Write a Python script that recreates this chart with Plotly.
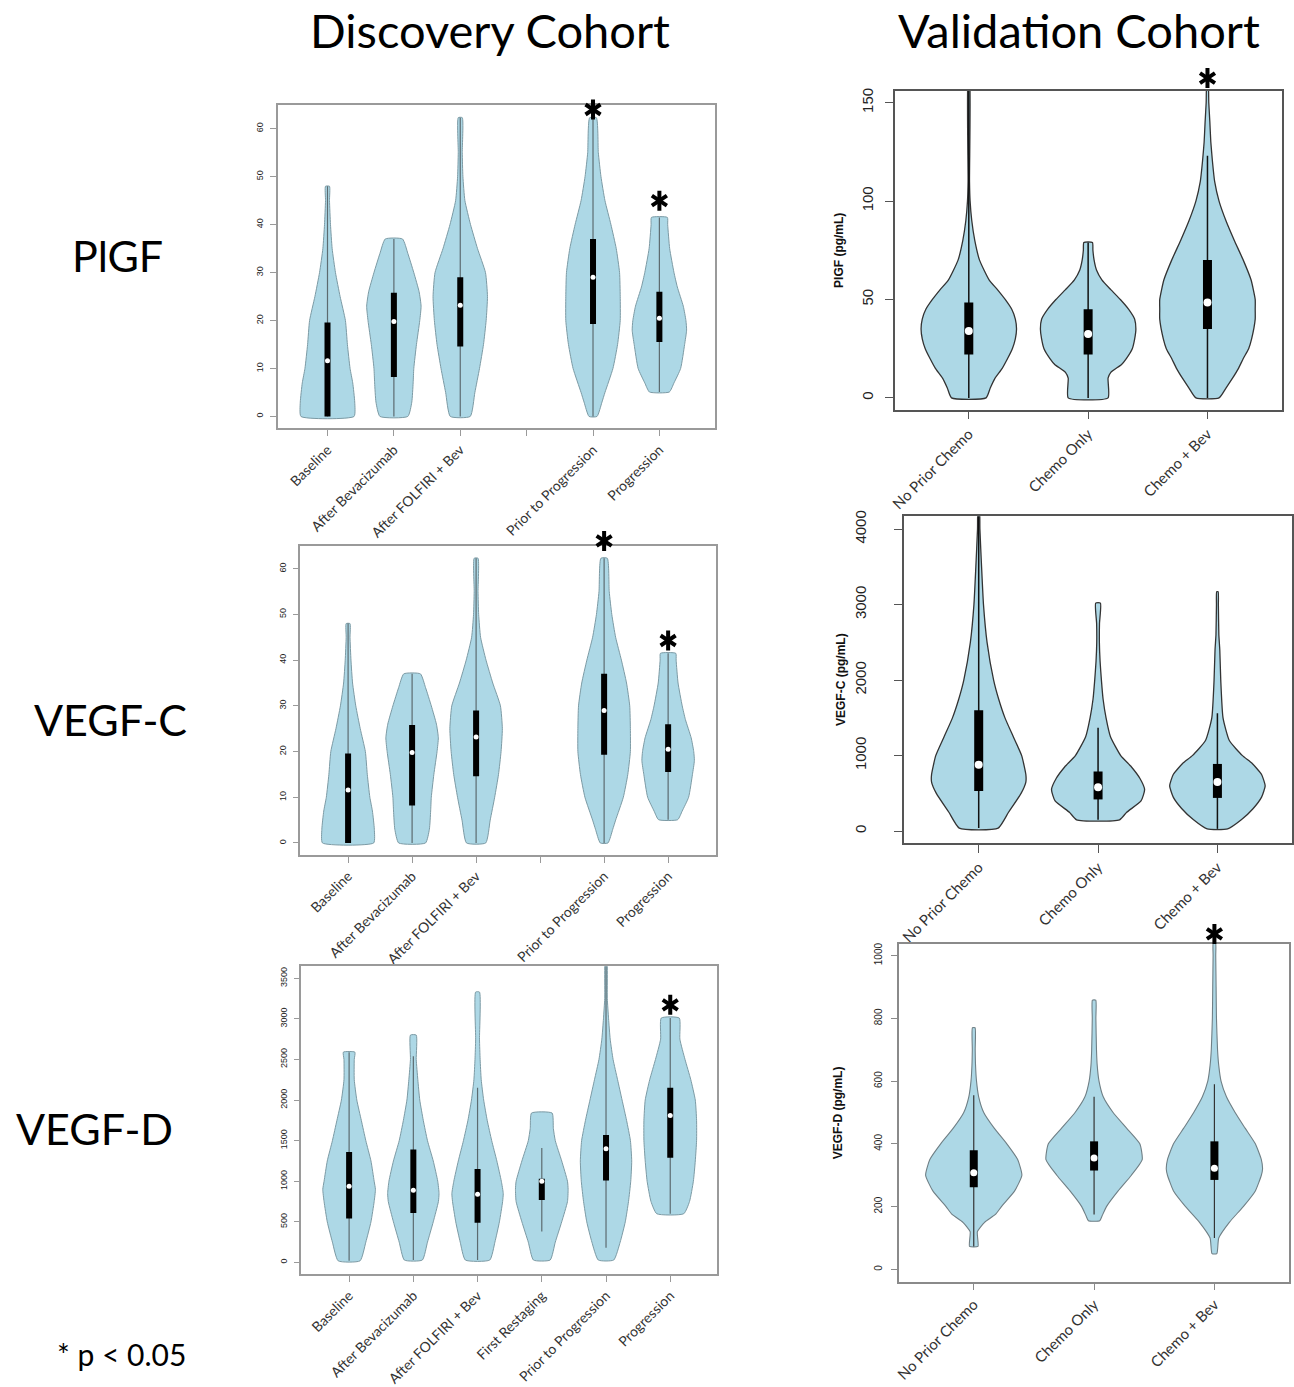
import plotly.graph_objects as go

W, H = 1294, 1387

# ---------------- data ----------------
disc_labels_a = ["Baseline", "After Bevacizumab", "After FOLFIRI + Bev", "", "Prior to Progression", "Progression"]
disc_labels_b = ["Baseline", "After Bevacizumab", "After FOLFIRI + Bev", "First Restaging", "Prior to Progression", "Progression"]
val_labels = ["No Prior Chemo", "Chemo Only", "Chemo + Bev"]

# Discovery PlGF (positions 1,2,3,5,6 ; slot 4 left empty)
disc_plgf_pos = [1, 2, 3, 5, 6]
disc_plgf_levels = [
    [0, 3, 7, 10, 15, 20, 25, 30, 35, 40, 45, 48],
    [0, 3, 7, 10, 15, 20, 23, 26, 30, 34, 37],
    [0, 5, 10, 15, 20, 25, 30, 35, 40, 45, 50, 55, 62.3],
    [0, 3, 5, 10, 15, 20, 25, 30, 35, 40, 45, 50, 55, 62.3],
    [5.1, 7, 10, 15, 18, 20, 23, 27, 30, 35, 40, 41.5],
]
disc_plgf_density = [
    [0.40, 0.41, 0.38, 0.34, 0.30, 0.27, 0.19, 0.12, 0.07, 0.045, 0.03, 0.03],
    [0.21, 0.27, 0.29, 0.30, 0.34, 0.39, 0.41, 0.38, 0.30, 0.21, 0.13],
    [0.15, 0.22, 0.29, 0.35, 0.39, 0.41, 0.38, 0.26, 0.155, 0.07, 0.04, 0.03, 0.03],
    [0.06, 0.135, 0.18, 0.30, 0.37, 0.41, 0.41, 0.40, 0.35, 0.27, 0.18, 0.12, 0.08, 0.05],
    [0.15, 0.22, 0.32, 0.38, 0.41, 0.40, 0.36, 0.27, 0.22, 0.155, 0.125, 0.12],
]
disc_plgf_q1 = [0, 8.2, 14.6, 19.3, 15.5]
disc_plgf_med = [11.6, 19.8, 23.2, 29.0, 20.5]
disc_plgf_q3 = [19.6, 25.8, 29.0, 37.0, 26.0]
disc_plgf_lo = [0, 0, 0, 0, 5.1]
disc_plgf_hi = [48, 37, 62.3, 62.3, 41.5]
disc_plgf_star_pos = [5, 6]
disc_plgf_star_y = [64.0, 45.0]

# Discovery VEGF-C (same distributions as shown in the reference)
disc_vegfc_pos = [1, 2, 3, 5, 6]
disc_vegfc_levels = disc_plgf_levels
disc_vegfc_density = disc_plgf_density
disc_vegfc_q1 = [0, 8.2, 14.6, 19.3, 15.5]
disc_vegfc_med = [11.6, 19.8, 23.2, 29.0, 20.5]
disc_vegfc_q3 = [19.6, 25.8, 29.0, 37.0, 26.0]
disc_vegfc_lo = [0, 0, 0, 0, 5.1]
disc_vegfc_hi = [48, 37, 62.3, 62.3, 41.5]
disc_vegfc_star_pos = [5, 6]
disc_vegfc_star_y = [66.1, 44.3]

# Discovery VEGF-D
disc_vegfd_pos = [1, 2, 3, 4, 5, 6]
disc_vegfd_levels = [
    [20, 250, 500, 750, 900, 1000, 1250, 1500, 1750, 2000, 2250, 2500, 2590],
    [30, 250, 500, 750, 850, 1000, 1250, 1500, 1750, 2000, 2250, 2500, 2800],
    [30, 250, 500, 750, 850, 1000, 1250, 1500, 1750, 2000, 2250, 2500, 2750, 3330],
    [30, 250, 500, 750, 900, 1000, 1250, 1500, 1650, 1840],
    [30, 250, 500, 750, 1000, 1250, 1500, 1750, 2000, 2250, 2500, 2750, 3000, 3250, 3800],
    [600, 750, 1000, 1250, 1500, 1750, 2000, 2250, 2500, 2750, 3010],
]
disc_vegfd_density = [
    [0.17, 0.26, 0.34, 0.39, 0.41, 0.39, 0.34, 0.26, 0.19, 0.12, 0.08, 0.08, 0.09],
    [0.14, 0.22, 0.31, 0.39, 0.40, 0.38, 0.31, 0.22, 0.155, 0.10, 0.07, 0.045, 0.045],
    [0.19, 0.27, 0.34, 0.39, 0.40, 0.37, 0.30, 0.22, 0.15, 0.095, 0.057, 0.04, 0.03, 0.03],
    [0.13, 0.21, 0.31, 0.40, 0.41, 0.40, 0.31, 0.21, 0.18, 0.16],
    [0.12, 0.22, 0.30, 0.35, 0.385, 0.40, 0.38, 0.32, 0.25, 0.18, 0.11, 0.065, 0.04, 0.02, 0.01],
    [0.21, 0.30, 0.36, 0.39, 0.41, 0.41, 0.39, 0.32, 0.23, 0.15, 0.14],
]
disc_vegfd_q1 = [540, 610, 490, 770, 1010, 1290]
disc_vegfd_med = [940, 890, 840, 1000, 1400, 1810]
disc_vegfd_q3 = [1360, 1390, 1150, 1030, 1570, 2150]
disc_vegfd_lo = [20, 30, 30, 380, 180, 600]
disc_vegfd_hi = [2590, 2540, 2150, 1410, 3800, 3010]
disc_vegfd_star_pos = [6]
disc_vegfd_star_y = [3172]

# Validation PlGF
val_plgf_pos = [1, 2, 3]
val_plgf_levels = [
    [0, 5, 10, 15, 20, 25, 30, 35, 40, 45, 50, 55, 60, 70, 80, 90, 100, 110, 165],
    [0, 10, 13, 17, 20, 25, 30, 35, 40, 45, 50, 55, 60, 65, 70, 75, 79],
    [0, 5, 10, 15, 20, 25, 30, 40, 45, 50, 60, 70, 80, 90, 100, 110, 120, 130, 140, 150, 160],
]
val_plgf_density = [
    [0.145, 0.18, 0.22, 0.28, 0.325, 0.365, 0.39, 0.40, 0.39, 0.36, 0.305, 0.24, 0.17, 0.09, 0.05, 0.025, 0.011, 0.006, 0.005],
    [0.167, 0.167, 0.19, 0.28, 0.32, 0.37, 0.39, 0.40, 0.39, 0.34, 0.27, 0.19, 0.115, 0.07, 0.05, 0.04, 0.036],
    [0.097, 0.155, 0.21, 0.26, 0.30, 0.345, 0.37, 0.40, 0.40, 0.40, 0.365, 0.30, 0.225, 0.155, 0.097, 0.06, 0.042, 0.028, 0.02, 0.011, 0.005],
]
val_plgf_q1 = [22, 22, 35]
val_plgf_med = [34, 32.5, 48.5]
val_plgf_q3 = [48.5, 45, 70]
val_plgf_lo = [0, 0, 0]
val_plgf_hi = [165, 79, 123]
val_plgf_star_pos = [3]
val_plgf_star_y = [162.5]

# Validation VEGF-C
val_vegfc_pos = [1, 2, 3]
val_vegfc_levels = [
    [40, 250, 500, 650, 750, 1000, 1250, 1500, 1750, 2000, 2500, 3000, 3500, 4000, 4300],
    [150, 250, 400, 550, 700, 850, 1000, 1250, 1500, 1750, 2000, 2250, 2500, 2750, 3020],
    [30, 150, 300, 450, 600, 750, 900, 1000, 1200, 1500, 2000, 2400, 2600, 3000, 3170],
]
val_vegfc_density = [
    [0.163, 0.25, 0.355, 0.395, 0.395, 0.36, 0.29, 0.22, 0.167, 0.125, 0.07, 0.04, 0.024, 0.01, 0.005],
    [0.18, 0.24, 0.36, 0.39, 0.35, 0.28, 0.19, 0.104, 0.067, 0.042, 0.028, 0.017, 0.011, 0.012, 0.02],
    [0.086, 0.20, 0.30, 0.37, 0.40, 0.37, 0.29, 0.21, 0.10, 0.047, 0.028, 0.02, 0.012, 0.008, 0.006],
]
val_vegfc_q1 = [530, 420, 440]
val_vegfc_med = [880, 580, 650]
val_vegfc_q3 = [1600, 790, 890]
val_vegfc_lo = [40, 150, 30]
val_vegfc_hi = [4300, 1370, 1560]

# Validation VEGF-D
val_vegfd_pos = [1, 2, 3]
val_vegfd_levels = [
    [73, 120, 150, 175, 200, 250, 300, 350, 400, 450, 500, 550, 600, 650, 700, 770],
    [155, 170, 200, 250, 300, 350, 400, 450, 500, 550, 600, 650, 700, 800, 858],
    [50, 100, 150, 200, 250, 300, 320, 350, 400, 450, 500, 550, 600, 650, 700, 800, 900, 1000, 1040],
]
val_vegfd_density = [
    [0.035, 0.03, 0.09, 0.18, 0.23, 0.34, 0.40, 0.365, 0.275, 0.17, 0.083, 0.041, 0.023, 0.015, 0.012, 0.011],
    [0.047, 0.066, 0.103, 0.20, 0.31, 0.40, 0.38, 0.27, 0.158, 0.076, 0.041, 0.026, 0.02, 0.015, 0.014],
    [0.02, 0.036, 0.124, 0.24, 0.34, 0.39, 0.40, 0.39, 0.34, 0.255, 0.172, 0.10, 0.055, 0.036, 0.026, 0.017, 0.014, 0.011, 0.01],
]
val_vegfd_q1 = [262, 315, 285]
val_vegfd_med = [308, 355, 322]
val_vegfd_q3 = [380, 408, 408]
val_vegfd_lo = [73, 175, 100]
val_vegfd_hi = [555, 550, 590]
val_vegfd_star_pos = [3]
val_vegfd_star_y = [1069]

# ---------------- styles ----------------
FILL = "#add8e6"
STYLE_DISC = dict(outline="#7c9aa4", olw=1.0, whisk="#5c6b70", wlw=1.2, boxw=6, medsize=5)
STYLE_VAL = dict(outline="#333333", olw=1.3, whisk="#111111", wlw=1.5, boxw=9, medsize=8)
STYLE_VALD = dict(outline="#6f7f85", olw=1.1, whisk="#333333", wlw=1.2, boxw=8, medsize=7)

fig = go.Figure()


def px_dom(x0, x1, y0, y1):
    return [x0 / W, x1 / W], [1 - y1 / H, 1 - y0 / H]


def axes_of(idx):
    return ("x" if idx == 1 else f"x{idx}"), ("y" if idx == 1 else f"y{idx}")


def add_panel(idx, pos, levels, dens, q1, med, q3, lo, hi, st):
    xa, ya = axes_of(idx)
    for p, lv, dn, a, m, b, l, h in zip(pos, levels, dens, q1, med, q3, lo, hi):
        xs = [p + d for d in dn] + [p - d for d in reversed(dn)] + [p + dn[0]]
        ys = list(lv) + list(reversed(lv)) + [lv[0]]
        fig.add_trace(go.Scatter(x=xs, y=ys, mode="lines", fill="toself", fillcolor=FILL,
                                 line=dict(color=st["outline"], width=st["olw"], shape="spline", smoothing=0.5),
                                 xaxis=xa, yaxis=ya, showlegend=False, hoverinfo="skip"))
        fig.add_trace(go.Scatter(x=[p, p], y=[l, h], mode="lines",
                                 line=dict(color=st["whisk"], width=st["wlw"]),
                                 xaxis=xa, yaxis=ya, showlegend=False, hoverinfo="skip"))
        fig.add_trace(go.Scatter(x=[p, p], y=[a, b], mode="lines",
                                 line=dict(color="black", width=st["boxw"]),
                                 xaxis=xa, yaxis=ya, showlegend=False, hoverinfo="skip"))
        fig.add_trace(go.Scatter(x=[p], y=[m], mode="markers",
                                 marker=dict(color="white", size=st["medsize"], line=dict(width=0)),
                                 xaxis=xa, yaxis=ya, showlegend=False, hoverinfo="skip"))


add_panel(1, disc_plgf_pos, disc_plgf_levels, disc_plgf_density, disc_plgf_q1, disc_plgf_med,
          disc_plgf_q3, disc_plgf_lo, disc_plgf_hi, STYLE_DISC)
add_panel(2, disc_vegfc_pos, disc_vegfc_levels, disc_vegfc_density, disc_vegfc_q1, disc_vegfc_med,
          disc_vegfc_q3, disc_vegfc_lo, disc_vegfc_hi, STYLE_DISC)
add_panel(3, disc_vegfd_pos, disc_vegfd_levels, disc_vegfd_density, disc_vegfd_q1, disc_vegfd_med,
          disc_vegfd_q3, disc_vegfd_lo, disc_vegfd_hi, STYLE_DISC)
add_panel(4, val_plgf_pos, val_plgf_levels, val_plgf_density, val_plgf_q1, val_plgf_med,
          val_plgf_q3, val_plgf_lo, val_plgf_hi, STYLE_VAL)
add_panel(5, val_vegfc_pos, val_vegfc_levels, val_vegfc_density, val_vegfc_q1, val_vegfc_med,
          val_vegfc_q3, val_vegfc_lo, val_vegfc_hi, STYLE_VAL)
add_panel(6, val_vegfd_pos, val_vegfd_levels, val_vegfd_density, val_vegfd_q1, val_vegfd_med,
          val_vegfd_q3, val_vegfd_lo, val_vegfd_hi, STYLE_VALD)

# ---------------- axes ----------------
# idx, px box (x0,x1,y0,y1), xrange, yrange, y tickvals, x labels, frame colour,
# ytick size, xtick size, ylabel standoff, ticklen, ytitle, title standoff
panels = [
    (1, (273, 713, 100, 428), [0.247, 6.84], [-2.5, 65], [0, 10, 20, 30, 40, 50, 60], disc_labels_a, "#9a9a9a", 9, 14, 3, 6, None, 0),
    (2, (296, 714, 547, 860), [0.255, 6.75], [-2.6, 65], [0, 10, 20, 30, 40, 50, 60], disc_labels_a, "#9a9a9a", 9, 14, 3, 6, None, 0),
    (3, (297, 715, 973, 1285), [0.257, 6.73], [-146, 3646], [0, 500, 1000, 1500, 2000, 2500, 3000, 3500], disc_labels_b, "#9a9a9a", 9, 14, 3, 6, None, 0),
    (4, (894, 1283, 86, 409), [0.383, 3.625], [-6, 156], [0, 50, 100, 150], val_labels, "#555555", 15, 15, 6, 8, "<b>PlGF (pg/mL)</b>", 13),
    (5, (903, 1293, 517, 848), [0.375, 3.625], [-157, 4170], [0, 1000, 2000, 3000, 4000], val_labels, "#555555", 15, 15, 22, 8, "<b>VEGF-C (pg/mL)</b>", 4),
    (6, (898, 1290, 950, 1293), [0.38, 3.62], [-41, 1038], [0, 200, 400, 600, 800, 1000], val_labels, "#8a8a8a", 10, 15, 5, 6, "<b>VEGF-D (pg/mL)</b>", 28),
]

layout = {}
geom = {}
for idx, box, xr, yr, ytv, xlab, fcol, ysz, xsz, ystand, tlen, ytitle, tstand in panels:
    xd, yd = px_dom(*box)
    geom[idx] = (xd, yd, xr, yr)
    xa, ya = axes_of(idx)
    xk = "xaxis" if idx == 1 else f"xaxis{idx}"
    yk = "yaxis" if idx == 1 else f"yaxis{idx}"
    layout[xk] = dict(domain=xd, anchor=ya, range=xr, tickmode="array",
                      tickvals=list(range(1, len(xlab) + 1)), ticktext=xlab, tickangle=-45,
                      ticks="outside", ticklen=tlen, tickcolor=fcol, tickwidth=1.2,
                      showline=True, mirror=True, linecolor=fcol, linewidth=1.5,
                      showgrid=False, zeroline=False, fixedrange=True,
                      tickfont=dict(family="Lato, Open Sans, sans-serif", size=xsz, color="#333333"))
    ydict = dict(domain=yd, anchor=xa, range=yr, tickmode="array", tickvals=ytv,
                 ticktext=[str(v) for v in ytv], tickangle=-90, ticklabelstandoff=ystand,
                 ticks="outside", ticklen=tlen, tickcolor=fcol, tickwidth=1.2,
                 showline=True, mirror=True, linecolor=fcol, linewidth=1.5,
                 showgrid=False, zeroline=False, fixedrange=True,
                 tickfont=dict(family="Liberation Sans, Arial, sans-serif", size=ysz, color="#222222"))
    if ytitle:
        ydict["title"] = dict(text=ytitle, standoff=tstand,
                              font=dict(family="Liberation Sans, Arial, sans-serif", size=12, color="#111111"))
    layout[yk] = ydict

# ---- significance marks: drawn on invisible companion axes that share each panel's
#      scale but extend above it, so marks placed above the frame stay visible ----
HEAD = 45 / H
star_sets = [(1, disc_plgf_star_pos, disc_plgf_star_y), (2, disc_vegfc_star_pos, disc_vegfc_star_y),
             (3, disc_vegfd_star_pos, disc_vegfd_star_y), (4, val_plgf_star_pos, val_plgf_star_y),
             (6, val_vegfd_star_pos, val_vegfd_star_y)]
for k, (idx, sp, sy) in enumerate(star_sets):
    n = 7 + k
    xd, yd, xr, yr = geom[idx]
    span = (yr[1] - yr[0]) / (yd[1] - yd[0])
    layout[f"xaxis{n}"] = dict(domain=xd, anchor=f"y{n}", range=xr, visible=False, fixedrange=True)
    layout[f"yaxis{n}"] = dict(domain=[yd[0], yd[1] + HEAD], anchor=f"x{n}",
                               range=[yr[0], yr[1] + HEAD * span], visible=False, fixedrange=True)
    for sym in ("y-up", "y-down"):
        fig.add_trace(go.Scatter(x=sp, y=sy, mode="markers", cliponaxis=False,
                                 marker=dict(symbol=sym, size=12.5, color="black",
                                             line=dict(color="black", width=4)),
                                 xaxis=f"x{n}", yaxis=f"y{n}", showlegend=False, hoverinfo="skip"))

fig.update_layout(**layout)

# ---------------- annotations ----------------
ann = []
big = dict(family="Lato, Open Sans, sans-serif", color="black")
for txt, cx, cy, fs in [("Discovery Cohort", 487, 24, 47), ("Validation Cohort", 1079, 24, 47),
                        ("PlGF", 112, 253, 43), ("VEGF-C", 105, 723, 43), ("VEGF-D", 89, 1137, 43),
                        ("* p < 0.05", 116, 1366, 30)]:
    ann.append(dict(x=cx / W, y=1 - cy / H, xref="paper", yref="paper", text=txt, showarrow=False,
                    xanchor="center", yanchor="middle", font=dict(size=fs, **big)))

fig.update_layout(annotations=ann, width=W, height=H, autosize=False,
                  margin=dict(l=0, r=0, t=0, b=0), plot_bgcolor="rgba(0,0,0,0)", paper_bgcolor="white",
                  showlegend=False)

fig.write_html("out.html", config={"displayModeBar": False})
